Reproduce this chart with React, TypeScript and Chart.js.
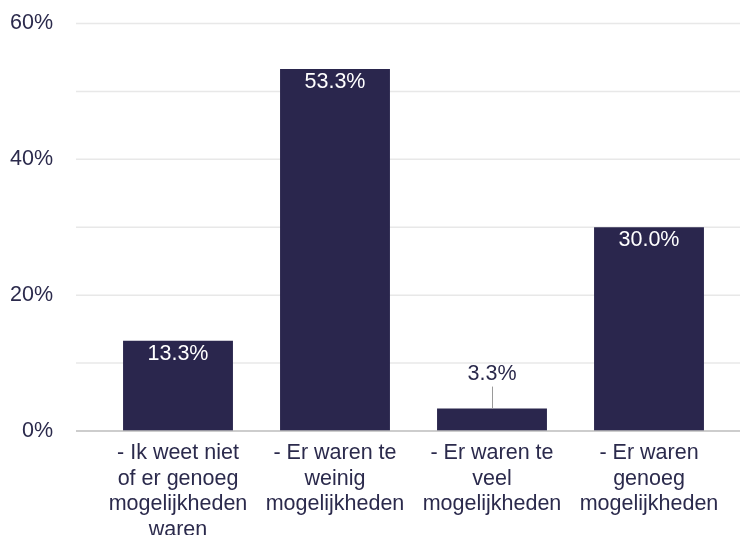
import React, { useEffect, useRef } from "react";
import { Chart, registerables } from "chart.js";

Chart.register(...registerables);

const categories: string[][] = [
  ["- Ik weet niet", "of er genoeg", "mogelijkheden", "waren"],
  ["- Er waren te", "weinig", "mogelijkheden"],
  ["- Er waren te", "veel", "mogelijkheden"],
  ["- Er waren", "genoeg", "mogelijkheden"],
];
const values: number[] = [13.3, 53.3, 3.3, 30.0];
const yTickValues: number[] = [0, 20, 40, 60];
const gridValues: number[] = [10, 20, 30, 40, 50, 60];

const FONT = "'Liberation Sans', Arial, Helvetica, sans-serif";
const TEXT = "#2b2a4c";
const BAR = "#2a264d";

export default function App() {
  const ref = useRef<HTMLCanvasElement>(null);

  useEffect(() => {
    document.body.style.margin = "0";
    document.body.style.overflow = "hidden";
    if (!ref.current) return;

    const gridPlugin = {
      id: "fullGrid",
      beforeDatasetsDraw(chart: any) {
        const ctx = chart.ctx;
        const y = chart.scales.y;
        ctx.save();
        ctx.strokeStyle = "#e8e8e8";
        ctx.lineWidth = 1.5;
        gridValues.forEach((v) => {
          const py = y.getPixelForValue(v);
          ctx.beginPath();
          ctx.moveTo(76, py);
          ctx.lineTo(chart.width, py);
          ctx.stroke();
        });
        ctx.restore();
      },
      afterDatasetsDraw(chart: any) {
        const ctx = chart.ctx;
        const y = chart.scales.y;
        ctx.save();
        const py = y.getPixelForValue(0);
        ctx.strokeStyle = "#bdbdbd";
        ctx.lineWidth = 1.5;
        ctx.beginPath();
        ctx.moveTo(76, py);
        ctx.lineTo(chart.width, py);
        ctx.stroke();

        const meta = chart.getDatasetMeta(0);
        ctx.font = `21.5px ${FONT}`;
        ctx.textAlign = "center";
        ctx.textBaseline = "middle";
        meta.data.forEach((bar: any, i: number) => {
          const v = values[i];
          const text = v.toFixed(1) + "%";
          if (v >= 10) {
            ctx.fillStyle = "#ffffff";
            ctx.fillText(text, bar.x, bar.y + 13);
          } else {
            ctx.strokeStyle = "#9a9a9a";
            ctx.lineWidth = 1;
            ctx.beginPath();
            ctx.moveTo(Math.round(bar.x) + 0.5, bar.y);
            ctx.lineTo(Math.round(bar.x) + 0.5, bar.y - 22);
            ctx.stroke();
            ctx.fillStyle = TEXT;
            ctx.fillText(text, bar.x, bar.y - 35);
          }
        });
        ctx.restore();
      },
    };

    const chart = new Chart(ref.current, {
      type: "bar",
      data: {
        labels: categories as any,
        datasets: [
          {
            data: values,
            backgroundColor: BAR,
            borderWidth: 0,
            barPercentage: 0.7,
            categoryPercentage: 1,
          },
        ],
      },
      options: {
        animation: false,
        responsive: false,
        maintainAspectRatio: false,
        devicePixelRatio: 1,
        layout: { padding: { top: 23.5, right: 12.5, left: 0, bottom: 0 } },
        plugins: { legend: { display: false }, tooltip: { enabled: false } },
        scales: {
          x: {
            grid: { display: false, drawTicks: false },
            border: { display: false },
            ticks: {
              color: TEXT,
              font: { family: FONT, size: 21.5, lineHeight: 1.2 },
              maxRotation: 0,
              minRotation: 0,
              autoSkip: false,
              padding: 9,
            },
            afterFit(s: any) {
              s.height = 104;
            },
          },
          y: {
            min: 0,
            max: 60,
            grid: { display: false, drawTicks: true, tickLength: 38.5 },
            border: { display: false },
            afterBuildTicks(s: any) {
              s.ticks = yTickValues.map((v) => ({ value: v }));
            },
            ticks: {
              color: TEXT,
              font: { family: FONT, size: 21.5 },
              padding: 8,
              callback: (v: any) => v + "%",
            },
            afterFit(s: any) {
              s.width = 99.5;
            },
          },
        },
      },
      plugins: [gridPlugin],
    });

    return () => chart.destroy();
  }, []);

  return <canvas ref={ref} width={740} height={535} style={{ display: "block" }} />;
}
